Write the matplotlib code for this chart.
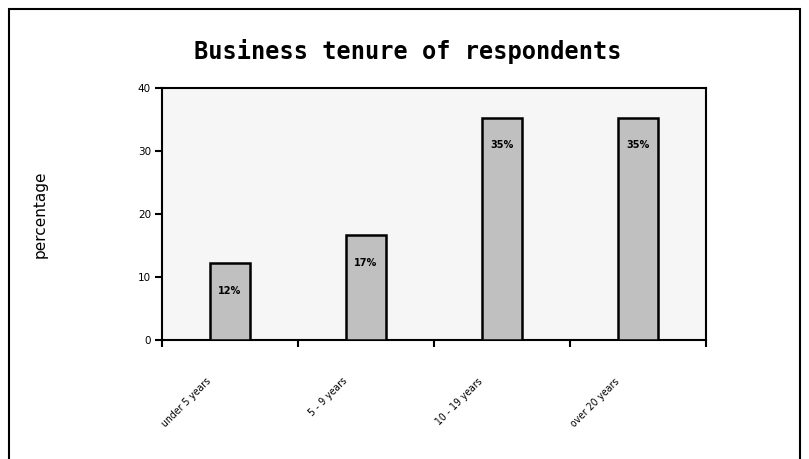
import numpy as np
import matplotlib
matplotlib.use("Agg")
import matplotlib.pyplot as plt
from matplotlib.patches import Rectangle
import matplotlib.transforms as mtransforms

categories = ["under 5 years", "5 - 9 years", "10 - 19 years", "over 20 years"]
values = [12.2, 16.7, 35.3, 35.3]
labels = ["12%", "17%", "35%", "35%"]

fig = plt.figure(figsize=(8.09, 4.59), dpi=100)
fig.patches.append(Rectangle((9 / 809, -0.1), 791 / 809, 1.1 - 9 / 459,
                             transform=fig.transFigure, fill=False,
                             edgecolor="black", lw=1.5))

ax = fig.add_axes([162 / 809, 1 - 340 / 459, 544 / 809, 252 / 459])
ax.set_facecolor("#f6f6f6")

x = np.arange(len(categories))
ax.bar(x, values, width=0.294, color="#c0c0c0", edgecolor="black", linewidth=1.8, zorder=3)

for xi, v, lab in zip(x, values, labels):
    ax.annotate(lab, (xi, v), xytext=(0, -20), textcoords="offset points",
                ha="center", va="center", fontsize=7, fontweight="bold", zorder=4)

ax.set_xlim(-0.5, 3.5)
ax.set_ylim(0, 40)
ax.set_yticks([0, 10, 20, 30, 40])
ax.tick_params(axis="y", labelsize=7.5, length=5, width=1.5, pad=3, colors="black")

ax.set_xticks(np.arange(-0.5, 4.0, 1.0), minor=True)
ax.set_xticks(x)
ax.set_xticklabels(categories, rotation=45, ha="right", va="top", fontsize=7.5,
                   fontstretch="condensed")
ax.tick_params(axis="x", which="major", length=0, pad=26)
ax.tick_params(axis="x", which="minor", length=5, width=1.5)
offset = mtransforms.ScaledTranslation(-17 / 100, 0, fig.dpi_scale_trans)
for t in ax.get_xticklabels():
    t.set_transform(t.get_transform() + offset)

for s in ax.spines.values():
    s.set_linewidth(1.5)
    s.set_color("black")

ax.set_ylabel("percentage", fontsize=11)
ax.yaxis.set_label_coords((48 - 162) / 544, 0.5)

fig.text(408 / 809, 1 - 52 / 459, "Business tenure of respondents",
         ha="center", va="center", fontsize=17, fontweight="bold",
         family="DejaVu Sans Mono")

fig.savefig("out.png", dpi=100)
